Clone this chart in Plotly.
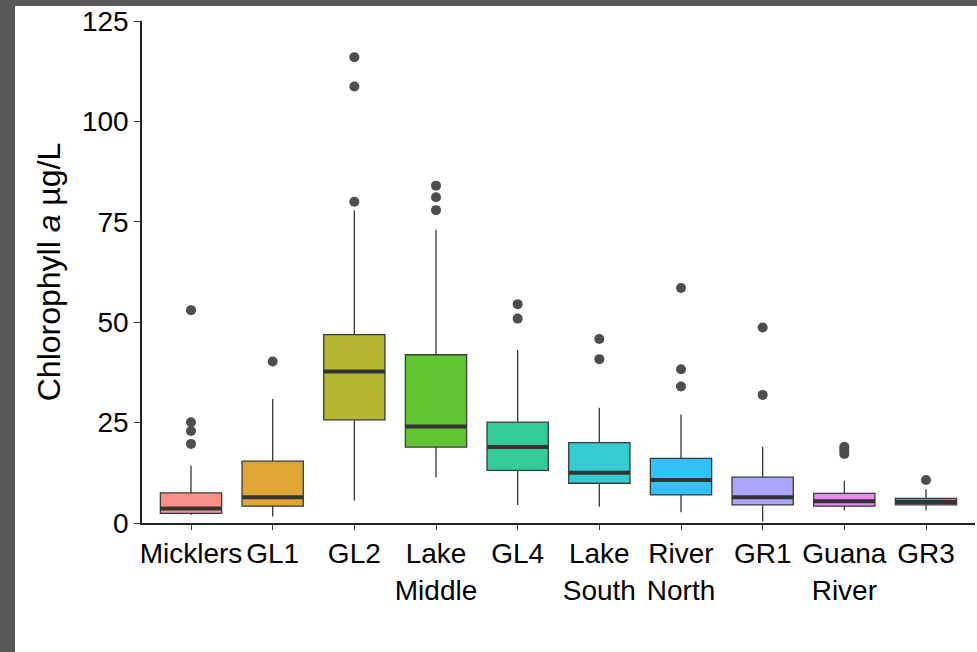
import plotly.graph_objects as go

# ---- data ----
sites = ["Micklers", "GL1", "GL2", "Lake<br>Middle", "GL4", "Lake<br>South",
         "River<br>North", "GR1", "Guana<br>River", "GR3"]
q1 = [2.4, 4.2, 25.7, 18.9, 13.1, 9.9, 7.0, 4.5, 4.2, 4.5]
median = [3.6, 6.4, 37.7, 24.0, 18.9, 12.5, 10.7, 6.4, 5.4, 5.2]
q3 = [7.5, 15.4, 46.9, 41.9, 25.1, 20.0, 16.1, 11.4, 7.4, 6.1]
lower_whisker = [2.0, 1.6, 5.6, 11.3, 4.5, 4.1, 2.7, 0.3, 3.1, 3.1]
upper_whisker = [14.3, 30.9, 77.9, 73.0, 43.1, 28.7, 27.0, 19.0, 10.5, 8.4]
outliers = [
    [53.0, 25.1, 22.9, 19.7],
    [40.2],
    [116.0, 108.7, 80.0],
    [84.0, 81.1, 77.9],
    [54.5, 50.9],
    [45.8, 40.8],
    [58.5, 38.3, 34.0],
    [48.7, 31.9],
    [19.0, 18.4, 17.8, 17.2],
    [10.7],
]
fill_colors = ["#F8766D", "#D89000", "#A3A500", "#39B600", "#00BF7D",
               "#00BFC4", "#00B0F6", "#9590FF", "#E76BF3", "#FF62BC"]
y_ticks = [0, 25, 50, 75, 100, 125]


def rgba(hex_color, a):
    h = hex_color.lstrip("#")
    r, g, b = int(h[0:2], 16), int(h[2:4], 16), int(h[4:6], 16)
    return f"rgba({r},{g},{b},{a})"


BOX_W = 0.75
EDGE = "#3a3a3a"
FONT = "Liberation Sans, Arial, sans-serif"

fig = go.Figure()
positions = list(range(1, len(sites) + 1))

for i, pos in enumerate(positions):
    fig.add_trace(go.Box(
        x=[pos], q1=[q1[i]], median=[median[i]], q3=[q3[i]],
        lowerfence=[lower_whisker[i]], upperfence=[upper_whisker[i]],
        width=BOX_W, whiskerwidth=0,
        fillcolor=rgba(fill_colors[i], 0.8),
        line=dict(color=EDGE, width=1.3),
        boxpoints=False, showlegend=False, hoverinfo="skip",
    ))
    # thick median line (ggplot style)
    fig.add_trace(go.Scatter(
        x=[pos - BOX_W / 2, pos + BOX_W / 2], y=[median[i], median[i]],
        mode="lines", line=dict(color="#333333", width=4),
        showlegend=False, hoverinfo="skip",
    ))
    # outliers
    fig.add_trace(go.Scatter(
        x=[pos] * len(outliers[i]), y=outliers[i], mode="markers",
        marker=dict(color="#4d4d4d", size=10, line=dict(width=0)),
        showlegend=False, hoverinfo="skip",
    ))

W, H = 977, 652
L, R, T, B = 142, 2, 21, 129
pw, ph = W - L - R, H - T - B

# dark frame strips at left and top of the window
fig.add_shape(type="rect", xref="paper", yref="paper",
              x0=-L / pw, x1=(15 - L) / pw, y0=-B / ph, y1=1 + T / ph,
              fillcolor="#565958", line=dict(width=0), layer="below")
fig.add_shape(type="rect", xref="paper", yref="paper",
              x0=-L / pw, x1=1 + R / pw, y0=1 + (T - 6) / ph, y1=1 + T / ph,
              fillcolor="#565958", line=dict(width=0), layer="below")

fig.update_layout(
    width=W, height=H,
    margin=dict(l=L, r=R, t=T, b=B),
    paper_bgcolor="white", plot_bgcolor="white",
    font=dict(family=FONT, size=28, color="black"),
    xaxis=dict(
        range=[0.4, len(sites) + 0.6], tickmode="array",
        tickvals=positions, ticktext=sites,
        showline=True, linecolor="#222222", linewidth=1.5,
        ticks="outside", ticklen=5, tickwidth=1.3, tickcolor="#333333",
        showgrid=False, zeroline=False,
        tickfont=dict(family=FONT, size=28, color="black"),
    ),
    yaxis=dict(
        range=[0, 125], tickmode="array", tickvals=y_ticks,
        showline=True, linecolor="#222222", linewidth=1.5,
        ticks="outside", ticklen=6, tickwidth=1.3, tickcolor="#333333",
        showgrid=False, zeroline=False,
        tickfont=dict(family=FONT, size=28, color="black"),
        title=dict(text="Chlorophyll <i>a</i> µg/L",
                   font=dict(family=FONT, size=32, color="black"),
                   standoff=12),
    ),
)

fig.write_html(
    "out.html",
    config={"displayModeBar": False},
    post_script="document.body.style.margin='0';document.body.style.overflow='hidden';",
)
